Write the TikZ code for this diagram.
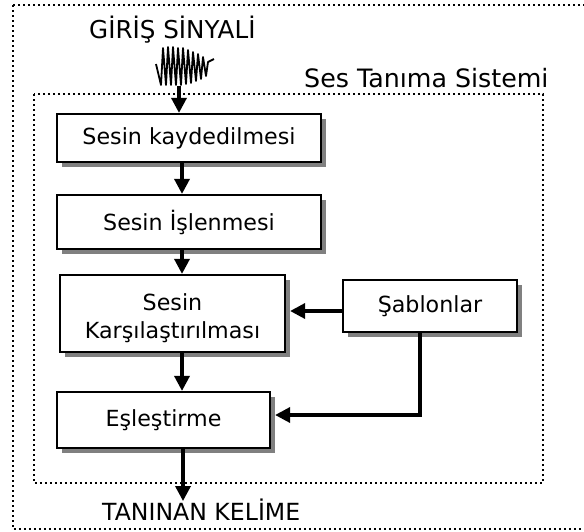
\documentclass[tikz,border=0pt]{standalone}
\usepackage{fontspec}
\setmainfont{DejaVu Sans}
\usetikzlibrary{arrows.meta,shadows}
\definecolor{shadowgray}{RGB}{128,128,128}
\begin{document}
\begin{tikzpicture}[x=1pt,y=-1pt,
  dots/.style={line width=2.5pt,dash pattern=on 2.4pt off 2.6pt},
  box/.style={draw,line width=2.2pt,fill=white,inner sep=0pt,align=center,
    font=\fontsize{22.2}{28}\selectfont,
    drop shadow={shadow xshift=5pt,shadow yshift=-5pt,fill=shadowgray,opacity=1}},
  arr/.style={line width=3.4pt,-{Triangle[length=15pt,width=15pt]}},
  lbl/.style={inner sep=0pt,anchor=base west,font=\fontsize{24.6}{28}\selectfont}]
\clip (0,0) rectangle (584,531);
% frames
\draw[dots] (13,5) rectangle (600,529);
\draw[dots] (34,94) rectangle (543,483);
% labels
\node[lbl] (gir) at (89,38) {GİRİŞ SİNYALİ};
\node[lbl,font=\fontsize{25.3}{28}\selectfont] (sts) at (304,87) {Ses Tanıma Sistemi};
\node[lbl,font=\fontsize{23.6}{28}\selectfont] (tan) at (102,520) {TANINAN KELİME};
% waveform
\draw[line width=1.8pt,line join=round] (156,64) -- (161,85) -- (163,48) -- (166,85) -- (168,47) -- (171,85)
  -- (173,47) -- (176,85) -- (178,48) -- (181,85) -- (183,48) -- (186,84) -- (188,50) -- (191,83)
  -- (193,52) -- (196,81) -- (198,54) -- (201,79) -- (203,57) -- (206,76) -- (208,62) -- (214,59);
% boxes
\node[box,minimum width=264pt,minimum height=48pt] (b1) at (189,138) {Sesin kaydedilmesi};
\node[box,minimum width=264pt,minimum height=54pt] (b2) at (189,222) {Sesin İşlenmesi};
\node[box,minimum width=225pt,minimum height=77pt] (b3) at (172.5,313.5) {\rule{0pt}{27pt}Sesin\\Karşılaştırılması};
\node[box,minimum width=213pt,minimum height=56pt] (b4) at (163.5,420) {Eşleştirme};
\node[box,minimum width=174pt,minimum height=52pt] (sab) at (430,306) {Şablonlar};
% helper coordinates
\coordinate (sig) at (179,86);
\coordinate (col) at (182,0);
\coordinate (out) at (183,501);
\coordinate (s1) at ([yshift=-5pt]sab.west);
\coordinate (b3e) at ([xshift=4pt]b3.east);
\coordinate (b4e) at ([xshift=4pt,yshift=5pt]b4.east);
\coordinate (sb) at ([xshift=-10pt]sab.south);
% connectors
\draw[arr] (sig) -- (sig |- b1.north);
\draw[arr] (b1.south -| col) -- (b2.north -| col);
\draw[arr] (b2.south -| col) -- (b3.north -| col);
\draw[arr] (b3.south -| col) -- (b4.north -| col);
\draw[arr] (b4.south -| out) -- (out);
\draw[arr] (s1) -- (s1 -| b3e);
\draw[arr] (sb) |- (b4e);
\end{tikzpicture}
\end{document}
